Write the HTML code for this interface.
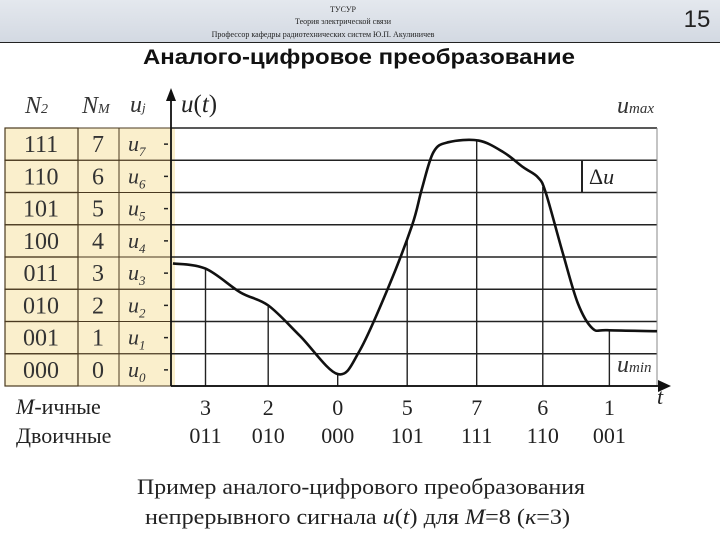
<!DOCTYPE html>
<html><head><meta charset="utf-8"><style>
body{margin:0;width:720px;height:540px;background:#fff;overflow:hidden}
svg{display:block}
.ser{font-family:"Liberation Serif","DejaVu Serif",serif}
</style></head><body>
<svg width="720" height="540">
<defs><linearGradient id="hb" x1="0" x2="0" y1="0" y2="1"><stop offset="0" stop-color="#e4e8ee"/><stop offset="1" stop-color="#d3d9e2"/></linearGradient></defs>
<rect x="0" y="0" width="720" height="42" fill="url(#hb)"/>
<line x1="0" y1="42.5" x2="720" y2="42.5" stroke="#222"/>
<g class="ser" font-size="8" text-anchor="middle" fill="#222">
<text x="343" y="12">ТУСУР</text><text x="343" y="24">Теория электрической связи</text><text x="323" y="37">Профессор кафедры радиотехнических систем Ю.П. Акулиничев</text>
</g>
<text x="697" y="27" font-family="Liberation Sans,sans-serif" font-size="24" text-anchor="middle" fill="#222">15</text>
<text x="143" y="64" font-family="Liberation Sans,sans-serif" font-weight="bold" font-size="21" textLength="432" lengthAdjust="spacingAndGlyphs" fill="#111">Аналого-цифровое преобразование</text>
<g id="chart"></g>
<g class="ser" font-size="22" fill="#222">
<text x="137" y="494" textLength="448" lengthAdjust="spacingAndGlyphs">Пример аналого-цифрового преобразования</text>
<text x="145" y="524" textLength="425" lengthAdjust="spacingAndGlyphs">непрерывного сигнала <tspan font-style="italic">u</tspan>(<tspan font-style="italic">t</tspan>) для <tspan font-style="italic">M</tspan>=8 (<tspan font-style="italic">к</tspan>=3)</text>
</g>
</svg>
<script>
// data: curve samples (time in 0..100, value in level units)
const curveT=[0.4,7.1,14.3,20,26.5,34.3,38.8,44.7,49.6,51.6,54,57.1,63.3,68.4,72.5,75.5,77.1,80.6,83.7,86.7,89.8,100];
const curveV=[3.3,3.14,2.4,2.0,1.06,-0.13,0.59,2.55,4.48,5.6,6.75,7.06,7.11,6.75,6.28,5.97,5.5,3.63,2.07,1.29,1.23,1.2];
const sampleT=[7.1,20,34.3,48.6,62.9,76.5,90.2];
const sampleM=["3","2","0","5","7","6","1"];
const sampleB=["011","010","000","101","111","110","001"];
const levels=[0,1,2,3,4,5,6,7];
const binCodes=["000","001","010","011","100","101","110","111"];
const NS="http://www.w3.org/2000/svg";
const x0=171,x1=657,yb=386,step=32.25;
const X=t=>x0+(t/100)*(x1-x0);
const Y=v=>yb-(v+0.5)*step;
const g=document.getElementById('chart');
function mk(tag,at,txt){const e=document.createElementNS(NS,tag);for(const k in at)e.setAttribute(k,at[k]);if(txt!=null)e.textContent=txt;g.appendChild(e);return e;}
let e=mk('rect',{x:5,y:Y(7.5),width:170,height:Y(-0.5)-Y(7.5),fill:'#faefcc'});


levels.forEach((lv,i)=>{
 const yt=Y(lv+0.5),yc=Y(lv);
 let r=mk('rect',{x:5,y:yt,width:73,height:step,fill:'none',stroke:'#4a3a20','stroke-width':1.2});
 
 
 mk('line',{x1:78,y1:yt,x2:78,y2:yt+step,stroke:'#4a3a20'});
 mk('line',{x1:119,y1:yt,x2:119,y2:yt+step,stroke:'#4a3a20'});
 mk('line',{x1:78,y1:yt,x2:175,y2:yt,stroke:'#4a3a20'});
 mk('line',{x1:78,y1:yt+step,x2:175,y2:yt+step,stroke:'#4a3a20'});
 let t=mk('text',{x:41,y:yc+8,'font-size':24,'text-anchor':'middle',class:'ser',fill:'#333'},binCodes[lv]);
 
 
 t=mk('text',{x:98,y:yc+8,'font-size':24,'text-anchor':'middle',class:'ser',fill:'#333'},String(lv));
 
 
 t=mk('text',{x:128,y:yc+7,'font-size':22,class:'ser','font-style':'italic',fill:'#333'},'u');
 const s=document.createElementNS(NS,'tspan');s.setAttribute('font-size',13);s.setAttribute('dy',5);s.textContent=String(lv);t.appendChild(s);
 
 
 mk('line',{x1:164,y1:yc,x2:168,y2:yc,stroke:'#222','stroke-width':1.5});
});
for(let k=0;k<=8;k++){const y=Y(k-0.5);let l=mk('line',{x1:x0,y1:y,x2:x1,y2:y,stroke:'#222','stroke-width':1.6});
 
 }
mk('line',{x1:x1,y1:Y(7.5),x2:x1,y2:yb,stroke:'#888','stroke-width':1});
let h2=mk('text',{x:25,y:113,'font-size':24,class:'ser','font-style':'italic',fill:'#333'},'N');
let ts=document.createElementNS(NS,'tspan');ts.setAttribute('font-size',14);ts.textContent='2';h2.appendChild(ts);
let hm=mk('text',{x:82,y:113,'font-size':24,class:'ser','font-style':'italic',fill:'#333'},'N');
ts=document.createElementNS(NS,'tspan');ts.setAttribute('font-size',14);ts.textContent='M';hm.appendChild(ts);
let hu=mk('text',{x:130,y:112,'font-size':24,class:'ser','font-style':'italic',fill:'#333'},'u');
ts=document.createElementNS(NS,'tspan');ts.setAttribute('font-size',13);ts.textContent='j';hu.appendChild(ts);
mk('text',{x:181,y:112,'font-size':25,class:'ser',fill:'#222'},'').innerHTML='<tspan font-style="italic">u</tspan>(<tspan font-style="italic">t</tspan>)';
let um=mk('text',{x:617,y:113,'font-size':24,class:'ser','font-style':'italic',fill:'#333'},'u');
ts=document.createElementNS(NS,'tspan');ts.setAttribute('font-size',15);ts.textContent='max';um.appendChild(ts);
let un=mk('text',{x:617,y:372,'font-size':24,class:'ser','font-style':'italic',fill:'#333'},'u');
ts=document.createElementNS(NS,'tspan');ts.setAttribute('font-size',15);ts.textContent='min';un.appendChild(ts);
mk('line',{x1:582,y1:Y(6.5),x2:582,y2:Y(5.5),stroke:'#222','stroke-width':2});
mk('text',{x:589,y:184,'font-size':22,class:'ser',fill:'#222'},'').innerHTML='Δ<tspan font-style="italic">u</tspan>';
function valAt(t){for(let i=0;i<curveT.length-1;i++){if(t>=curveT[i]&&t<=curveT[i+1]){const f=(t-curveT[i])/(curveT[i+1]-curveT[i]);return curveV[i]+f*(curveV[i+1]-curveV[i]);}}return curveV[curveV.length-1];}
sampleT.forEach((t,i)=>{
 let l=mk('line',{x1:X(t),y1:yb,x2:X(t),y2:Y(valAt(t)),stroke:'#222','stroke-width':1.4});
 
 
 let a=mk('text',{x:X(t),y:415,'font-size':22,'text-anchor':'middle',class:'ser',fill:'#222'},sampleM[i]);
 
 
 let b=mk('text',{x:X(t),y:443,'font-size':22,'text-anchor':'middle',class:'ser',fill:'#222'},sampleB[i]);
 
 
});
mk('text',{x:16,y:414,'font-size':22,class:'ser',fill:'#222'},'').innerHTML='<tspan font-style="italic">M</tspan>-ичные';
mk('text',{x:16,y:443,'font-size':22,class:'ser',fill:'#222'},'Двоичные');
const P=curveT.map((t,i)=>[X(t),Y(curveV[i])]);
let d='M'+P[0][0]+','+P[0][1];
for(let i=0;i<P.length-1;i++){const p0=P[Math.max(0,i-1)],p1=P[i],p2=P[i+1],p3=P[Math.min(P.length-1,i+2)];
 d+=' C'+(p1[0]+(p2[0]-p0[0])/6)+','+(p1[1]+(p2[1]-p0[1])/6)+' '+(p2[0]-(p3[0]-p1[0])/6)+','+(p2[1]-(p3[1]-p1[1])/6)+' '+p2[0]+','+p2[1];}
let c=mk('path',{d:d,fill:'none',stroke:'#111','stroke-width':2.6});


let ya=mk('line',{x1:x0,y1:yb,x2:x0,y2:100,stroke:'#111','stroke-width':1.8});


mk('polygon',{points:`${x0-5},101 ${x0+5},101 ${x0},88`,fill:'#111'});
let xa=mk('line',{x1:x0,y1:yb,x2:663,y2:yb,stroke:'#111','stroke-width':1.8});


mk('polygon',{points:`658,${yb-6} 658,${yb+6} 671,${yb}`,fill:'#111'});
mk('text',{x:657,y:404,'font-size':22,class:'ser','font-style':'italic',fill:'#222'},'t');
</script>
</body></html>
